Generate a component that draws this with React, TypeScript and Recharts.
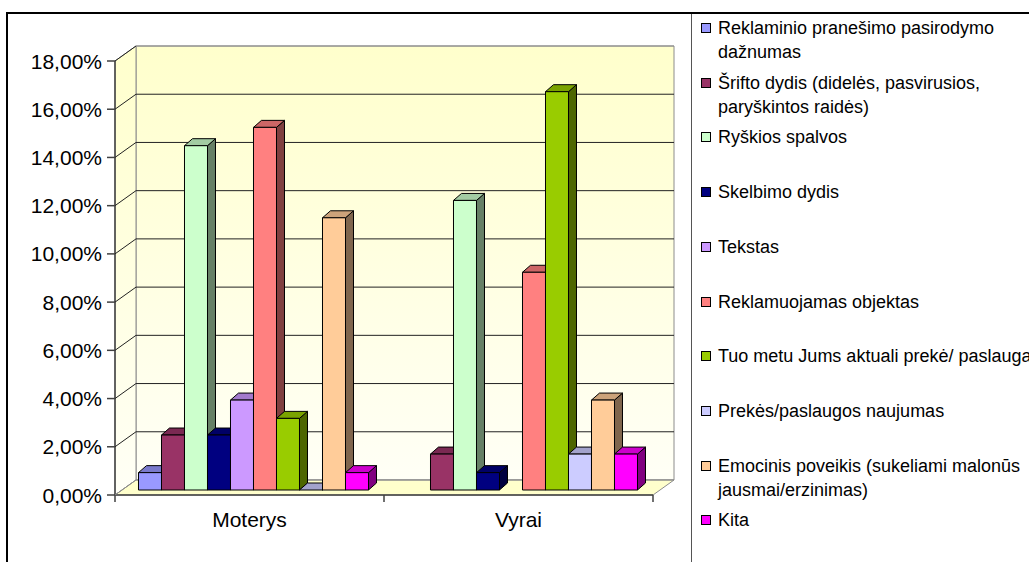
import { Bar, BarChart, CartesianGrid, Legend, XAxis, YAxis } from "recharts";

const CATEGORIES = ["Moterys", "Vyrai"];
const SERIES_NAMES = [
  "Reklaminio pranešimo pasirodymo\ndažnumas",
  "Šrifto dydis (didelės, pasvirusios,\nparyškintos raidės)",
  "Ryškios spalvos",
  "Skelbimo dydis",
  "Tekstas",
  "Reklamuojamas objektas",
  "Tuo metu Jums aktuali prekė/ paslauga",
  "Prekės/paslaugos naujumas",
  "Emocinis poveikis (sukeliami malonūs\njausmai/erzinimas)",
  "Kita",
];
// values in %
const MOTERYS = [0.72, 2.28, 14.28, 2.28, 3.73, 15.04, 2.97, 0, 11.29, 0.72];
const VYRAI = [null, 1.49, 12.01, 0.72, null, 9.03, 16.52, 1.49, 3.73, 1.49];
const COLORS = [
  "#9999ff",
  "#993366",
  "#ccffcc",
  "#000080",
  "#cc99ff",
  "#ff8080",
  "#99cc00",
  "#ccccff",
  "#ffcc99",
  "#ff00ff",
];
const Y_TICKS = [0, 2, 4, 6, 8, 10, 12, 14, 16, 18];

const data = CATEGORIES.map((cat, ci) => {
  const vals = ci === 0 ? MOTERYS : VYRAI;
  const row: Record<string, string | number | null> = { cat };
  SERIES_NAMES.forEach((_, i) => {
    row[`s${i}`] = vals[i];
  });
  return row;
});

const W = 1029;
const H = 562;
// plane of the bar fronts
const PLOT = { left: 121, top: 56, right: 659, bottom: 490 };
// front edge of the box and back wall, relative to the bar plane
const FRONT = { dx: -6, dy: 5 };
const BACK = { dx: 15, dy: -10 };
const DEPTH = { dx: 8, dy: 7 };

const FONT = "'Liberation Sans', Arial, sans-serif";
const AXIS_DARK = "#404040";
const EDGE = "#8c8c8c";

const fmtPct = (v: number) => `${v.toFixed(2).replace(".", ",")}%`;

function shade(hex: string, k: number) {
  const n = parseInt(hex.slice(1), 16);
  const r = Math.round(((n >> 16) & 255) * k);
  const g = Math.round(((n >> 8) & 255) * k);
  const b = Math.round((n & 255) * k);
  return `rgb(${r},${g},${b})`;
}

function Bar3D(props: any) {
  const { x, y, width, height, fill, raw } = props;
  if (raw == null || x == null || y == null) return null;
  const w = width;
  const h = Math.max(0, height);
  const { dx, dy } = DEPTH;
  return (
    <g stroke="#000" strokeWidth={1} strokeLinejoin="round">
      <polygon
        points={`${x + w},${y} ${x + w + dx},${y - dy} ${x + w + dx},${y + h - dy} ${x + w},${y + h}`}
        fill={shade(fill, 0.5)}
      />
      <polygon
        points={`${x},${y} ${x + dx},${y - dy} ${x + w + dx},${y - dy} ${x + w},${y}`}
        fill={shade(fill, 0.8)}
      />
      {h > 0 && <rect x={x} y={y} width={w} height={h} fill={fill} />}
    </g>
  );
}

function GridLine(props: any) {
  const { x1, x2, y1 } = props;
  const y = y1;
  const edge = Math.abs(y - PLOT.bottom) < 1 || Math.abs(y - PLOT.top) < 1;
  return (
    <g>
      <line
        x1={x1 + FRONT.dx}
        y1={y + FRONT.dy}
        x2={x1 + BACK.dx}
        y2={y + BACK.dy}
        stroke={Math.abs(y - PLOT.bottom) < 1 ? EDGE : "#222"}
      />
      <line
        x1={x1 + BACK.dx}
        y1={y + BACK.dy}
        x2={x2 + BACK.dx}
        y2={y + BACK.dy}
        stroke={edge ? EDGE : "#222"}
      />
    </g>
  );
}

function YTick(props: any) {
  const { y, payload } = props;
  const fy = y + FRONT.dy;
  const ax = PLOT.left + FRONT.dx;
  return (
    <g>
      <line x1={ax - 8} y1={fy} x2={ax} y2={fy} stroke={AXIS_DARK} strokeWidth={1.5} />
      <text x={ax - 13} y={fy + 7.5} textAnchor="end" fontSize={21} fontFamily={FONT} fill="#000">
        {fmtPct(payload.value)}
      </text>
    </g>
  );
}

function XTick(props: any) {
  const { x, payload } = props;
  return (
    <text
      x={x + FRONT.dx}
      y={PLOT.bottom + FRONT.dy + 32}
      textAnchor="middle"
      fontSize={21}
      fontFamily={FONT}
      fill="#000"
    >
      {payload.value}
    </text>
  );
}

function LegendContent({ payload }: any) {
  const items = [...(payload ?? [])].sort(
    (a: any, b: any) => SERIES_NAMES.indexOf(a.value) - SERIES_NAMES.indexOf(b.value)
  );
  return (
    <div style={{ position: "relative", width: 337, height: H }}>
      {items.map((p: any, i: number) => (
        <div
          key={p.value}
          style={{
            position: "absolute",
            left: 0,
            top: 16 + i * 54.7,
            fontFamily: FONT,
            fontSize: 18,
            lineHeight: "24px",
            whiteSpace: "pre",
            color: "#000",
          }}
        >
          <span
            style={{
              position: "absolute",
              left: 9,
              top: 7,
              width: 10,
              height: 10,
              boxSizing: "border-box",
              border: "1px solid #000",
              background: p.color,
            }}
          />
          <div style={{ marginLeft: 26 }}>{p.value}</div>
        </div>
      ))}
    </div>
  );
}

function Box() {
  const fl = PLOT.left + FRONT.dx;
  const fr = PLOT.right + FRONT.dx;
  const fb = PLOT.bottom + FRONT.dy;
  const ft = PLOT.top + FRONT.dy;
  const bl = PLOT.left + BACK.dx;
  const br = PLOT.right + BACK.dx;
  const bb = PLOT.bottom + BACK.dy;
  const bt = PLOT.top + BACK.dy;
  const band = (fr - fl) / CATEGORIES.length;
  return (
    <svg width={W} height={H} style={{ position: "absolute", left: 0, top: 0 }}>
      <defs>
        <linearGradient id="wall" x1="0" y1="0" x2="0" y2="1">
          <stop offset="0%" stopColor="#ffffcc" />
          <stop offset="100%" stopColor="#fffff6" />
        </linearGradient>
      </defs>
      <polygon points={`${bl},${bt} ${br},${bt} ${br},${bb} ${bl},${bb}`} fill="url(#wall)" stroke={EDGE} />
      <polygon points={`${fl},${ft} ${bl},${bt} ${bl},${bb} ${fl},${fb}`} fill="url(#wall)" stroke={EDGE} />
      <polygon points={`${fl},${fb} ${bl},${bb} ${br},${bb} ${fr},${fb}`} fill="#ffffcc" stroke={EDGE} />
      <line x1={fl} y1={ft} x2={fl} y2={fb} stroke={AXIS_DARK} strokeWidth={1.5} />
      <line x1={fl} y1={fb} x2={fr} y2={fb} stroke={AXIS_DARK} strokeWidth={1.5} />
      {CATEGORIES.map((_, i) => i).concat(CATEGORIES.length).map((i) => (
        <line key={i} x1={fl + i * band} y1={fb} x2={fl + i * band} y2={fb + 7} stroke={AXIS_DARK} strokeWidth={1.5} />
      ))}
    </svg>
  );
}

export default function App() {
  return (
    <div style={{ position: "absolute", left: 0, top: 0, width: W, height: H, overflow: "hidden", background: "#fff" }}>
      <div
        style={{
          position: "absolute",
          left: 6,
          top: 12,
          width: 1200,
          height: 700,
          borderTop: "2px solid #000",
          borderLeft: "2px solid #000",
        }}
      />
      <div style={{ position: "absolute", left: 691, top: 14, width: 1, height: H, background: "#555" }} />
      <Box />
      <div style={{ position: "absolute", left: 0, top: 0 }}>
        <BarChart
          width={W}
          height={H}
          data={data}
          margin={{ top: PLOT.top, right: W - PLOT.right, bottom: 0, left: 0 }}
          barGap={0}
          barCategoryGap="6.5%"
        >
          <CartesianGrid vertical={false} horizontal={(p: any) => <GridLine key={p.key} {...p} />} />
          <XAxis
            dataKey="cat"
            height={H - PLOT.bottom}
            axisLine={false}
            tickLine={false}
            tick={<XTick />}
            interval={0}
          />
          <YAxis
            width={PLOT.left}
            domain={[0, 18]}
            ticks={Y_TICKS}
            axisLine={false}
            tickLine={false}
            tick={<YTick />}
            interval={0}
          />
          <Legend
            layout="vertical"
            align="center"
            verticalAlign="middle"
            wrapperStyle={{ left: 692, top: 0, width: 337, height: H }}
            content={<LegendContent />}
          />
          {SERIES_NAMES.map((name, i) => (
            <Bar
              key={name}
              dataKey={`s${i}`}
              name={name}
              fill={COLORS[i]}
              isAnimationActive={false}
              shape={(p: any) => <Bar3D {...p} raw={data[p.index]?.[`s${i}`]} />}
            />
          ))}
        </BarChart>
      </div>
    </div>
  );
}
